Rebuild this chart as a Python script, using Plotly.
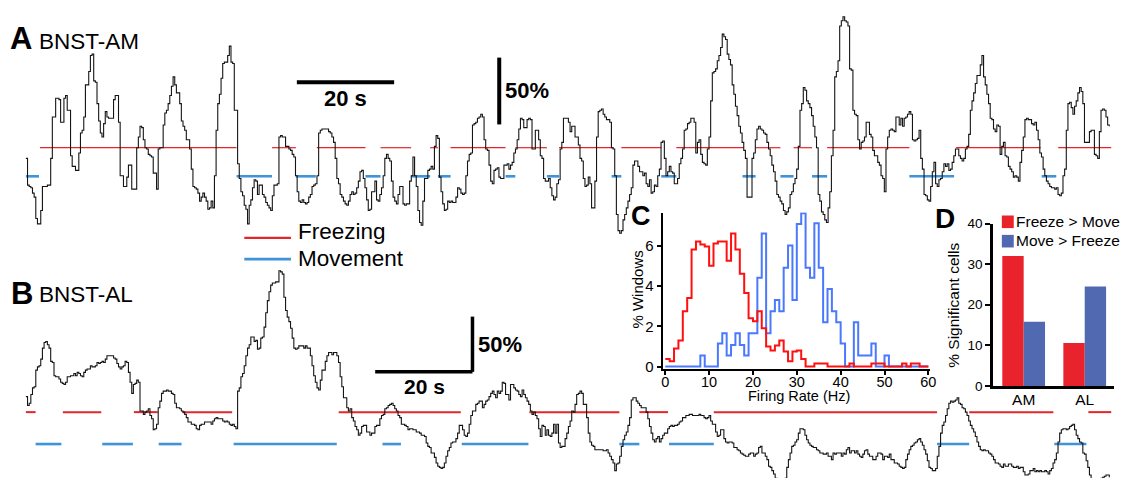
import numpy as np
import plotly.graph_objects as go

W, H = 1133, 494          # browser window
OX, OY = 8, 8             # default page margin around the figure
FW, FH = W - 2 * OX, H - 2 * OY
FONT = "Liberation Sans, Arial, Helvetica, sans-serif"

# ---------------- data ----------------
DT = 0.34  # seconds per sample

# BNST-AM normalized activity (%)
am_trace = [
    -8,-28,-29,-30,-34,-37,-53,-57,-57,-47, -29,-29,-29,-28,-28,-8,23,23,37,37,
    36,19,19,37,39,28,28,-6,-14,-14, -17,-17,-4,11,13,23,47,47,57,69,
    70,50,49,33,20,11,8,18,27,23, 22,22,22,36,39,39,19,-21,-21,-29,
    -29,-22,-13,-13,-31,-31,-31,0,8,16, 15,6,0,-1,-5,-6,-7,-19,-19,-31,
    -1,0,0,17,26,28,33,39,46,53, 47,41,41,33,20,16,13,6,6,-1,
    -16,-29,-30,-31,-34,-40,-37,-34,-37,-40, -46,-45,-40,-45,-21,13,33,40,52,63,
    64,64,69,76,64,63,28,28,-12,-23, -33,-36,-43,-46,-57,-43,-39,-30,-24,-25,
    -35,-28,-28,-35,-37,-41,-43,-45,-47,-36, -28,-28,-27,8,9,8,8,1,1,-1,
    -2,-5,-7,-21,-33,-40,-41,-39,-41,-42, -41,-37,-35,-29,-28,-27,-21,11,13,14,
    14,14,14,12,11,8,4,-8,-23,-27, -35,-37,-40,-42,-43,-40,-35,-33,-35,-34,
    -30,-25,-18,-17,-23,-30,-39,-47,-46,-33, -33,-25,-39,-40,
    -35,-30,-21,-8,-5,-8,-10,-25,-37,-40, -42,-35,-29,-29,-42,-43,-42,-42,-25,-21,
    -7,-21,-29,-47,-56,-58,-40,-23,-23,-17, -16,-14,-16,1,9,7,-22,-33,-42,-47,
    -46,-40,-41,-40,-41,-41,-37,-30,-31,-34, -35,-34,-21,-10,-5,-4,17,18,19,22,
    23,25,23,6,-1,-2,-13,-25,-27,-17, -16,-15,-22,-23,-23,-13,-13,-12,-16,-13,
    -11,-4,-1,6,14,22,21,15,15,21, 22,21,-1,-1,13,13,6,-6,-8,-23,
    -25,-25,-23,-30,-36,-39,-37,-27,-24,-1, 4,22,22,22,19,12,16,16,8,8,
    2,-8,-10,-23,-29,-28,-22,-27,-45,-45, -25,8,27,28,29,25,23,21,21,19,
    0,-1,-21,-50,-62,-64,-62,-54,-50,-45, -40,-35,-30,-13,-10,-10,-14,-18,-18,-21,
    -19,-27,-29,-24,-34,-33,-28,-29,-21,-16, 4,5,-8,-21,-18,-14,-18,-19,-27,-27,
    -23,-12,-8,-1,13,14,18,19,22,22, 19,-4,4,6,-5,-11,-12,-13,-1,8,
    35,56,57,59,65,69,75,85,83,81, 70,66,62,47,40,31,24,16,11,4, -2,-8,
    -37,-37,-37,-8,-4,6,14,16,14,13, 11,10,4,-1,-6,-13,-18,-25,-35,-37,
    -40,-42,-47,-50,-48,-45,-35,-33,-27,-23, -16,1,28,33,45,43,35,33,30,24,
    16,8,0,-35,-40,-48,-50,-54,-56,-45, -33,-6,13,53,57,65,91,95,98,95,
    94,91,59,58,28,25,24,6,-1,4, 5,8,19,19,10,8,-2,-6,-6,-11,
    -13,-21,-23,-33,-1,8,13,14,13,12, 23,23,17,22,16,22,23,25,27,25,
    6,5,6,7,13,-8,-16,-35,-36,-39, -40,-29,-18,-11,-27,-29,-24,-23,-18,-12,
    -14,-12,-17,-16,-11,-6,-1,-1,-6,-8, -10,-8,-1,1,10,28,35,41,48,54,
    54,62,69,53,47,40,33,22,21,14, 12,17,16,-5,1,4,-6,-7,-14,-16,
    -18,-22,-21,-22,-25,-11,-2,8,21,22, 21,21,18,17,19,13,6,-4,-7,-16,
    -21,-25,-27,-29,-30,-30,-31,-30,-35,-36, -34,-21,-16,13,33,34,30,25,31,35,
    41,45,42,33,4,4,4,12,13,13, -5,-6,-8,12,28,29,28,23,17,16,
]

# BNST-AL normalized activity (%)
al_trace = [
    14,6,8,16,22,23,38,41,42,48, 58,63,64,61,58,46,45,33,32,32,
    30,27,26,25,27,32,32,33,33,35, 33,36,35,33,32,36,38,39,39,42,
    41,41,42,45,44,45,46,45,48,51, 51,51,51,49,48,44,41,39,41,42,
    46,45,36,27,17,25,26,29,27,1, 1,-2,0,1,3,-3,-6,-16,-15,-11,
    4,10,17,19,19,20,19,19,17,16, 8,4,4,3,1,0,-2,-5,-9,-9,
    -11,-11,-12,-15,-16,-12,-11,-11,-9,-9, -9,-9,-11,-8,-6,-5,-6,-6,-6,-8,
    -9,-8,-9,-11,-12,-11,-13,-15,19,22, 32,35,42,51,58,61,68,68,64,65,
    57,58,67,68,77,90,101,109,115,117, 117,118,118,128,127,125,104,92,86,82,
    76,67,58,57,58,60,60,60,58,60, 58,58,51,42,33,27,22,20,29,38,
    38,46,51,54,54,52,54,54,51,45, 32,23,13,13,4,1,3,-5,-8,-13,
    -16,-21,-19,-13,-12,-12,-18,-18,-21,-19, -19,-13,-12,-12,
    -6,-3,-2,3,4,6,7,8,6,3, 1,-3,-5,-11,-11,-12,-13,-16,-15,-15,
    -16,-16,-18,-18,-19,-21,-21,-22,-28,-31, -32,-37,-37,-41,-46,-49,-50,-51,-50,-46,
    -40,-35,-32,-28,-27,-27,-24,-19,-12,-12, -16,-21,-22,-19,-11,-3,1,1,7,8,
    10,10,4,7,10,11,14,17,19,16, 13,19,17,19,27,26,16,16,11,25,
    25,22,20,19,16,14,20,16,13,10, 7,1,-2,0,-3,-6,-15,-22,-12,-13,
    -21,-16,-21,-22,-19,-11,-19,-11,-28,-32, -31,-31,-24,-19,-13,-8,1,0,7,16,
    17,19,17,7,7,-5,-19,-27,-30,-31, -34,-34,-34,-34,-34,-35,-35,-34,-37,-40,
    -43,-46,-53,-47,-46,-40,-31,-25,-21,-18, -12,-5,11,13,13,10,8,6,4,4,
    4,0,-6,-13,-19,-25,-27,-24,-22,-27, -24,-21,-19,-19,-15,-13,-12,-13,-12,-12,
    -11,-9,-8,-5,-5,-3,-3,-2,-2,-3, -3,-3,-3,-2,-3,-3,-5,-6,-5,-3,
    -8,-11,-11,-18,-22,-21,-16,-16,-24,-27, -28,-27,-27,-28,-32,-32,-34,-35,-37,-38, -39,-40,
    -40,-38,-37,-37,-40,-38,-37,-32,-31,-37, -37,-40,-43,-49,-50,-53,-56,-60,-62,-63,
    -65,-62,-65,-60,-50,-43,-37,-31,-30,-27, -25,-19,-15,-15,-16,-21,-25,-28,-30,-31,
    -32,-32,-34,-35,-37,-37,-38,-38,-37,-40, -40,-43,-37,-38,-37,-37,-37,-40,-37,-38,
    -34,-32,-37,-35,-35,-37,-35,-38,-40,-41, -38,-35,-34,-38,-40,-40,-43,-43,-40,-37,
    -37,-38,-43,-40,-40,-41,-38,-43,-43,-46, -46,-47,-49,-50,-51,-50,-43,-38,-34,-31,
    -30,-28,-27,-25,-24,-27,-30,-34,-38,-44, -50,-51,-53,-53,-51,-40,-31,-19,-12,-9,
    -3,3,8,10,9,10,11,13,8,7, 4,3,0,-3,-8,-12,-15,-18,-22,-27,
    -31,-34,-35,-34,-35,-35,-37,-38,-40,-43, -46,-46,-47,-49,-50,-47,-49,-49,-47,-47,
    -49,-50,-50,-49,-51,-50,-50,-54,-57,-57, -56,-53,-53,-51,-54,-53,-54,-53,-54,-54,
    -53,-54,-56,-53,-51,-46,-43,-37,-27,-19, -16,-15,-15,-16,-15,-13,-12,-11,-16,-21,
    -24,-27,-28,-37,-38,-44,-50,-57,-62,-66, -65,-63,-62,-61,-60,-59,-58,-57,-57,-59,
]

# behavioural epochs (start s, end s)
am_freeze_start = [2.9, 50.6, 59.8, 72.9, 83.1, 87.3, 100.6, 109.6, 122.4, 133.7, 150.0, 157.8, 164.7, 191.2, 212.2]
am_freeze_end   = [43.3, 55.5, 69.8, 79.2, 84.7, 98.6, 107.1, 120.8, 130.6, 147.6, 155.1, 161.6, 181.6, 208.6, 223.1]
am_move_start = [0.0, 43.3, 55.5, 69.8, 79.2, 84.7, 98.6, 107.1, 120.4, 130.6, 147.3, 155.1, 161.6, 181.6, 208.8]
am_move_end   = [2.7, 50.6, 59.6, 72.9, 83.1, 87.3, 100.6, 109.6, 122.4, 133.7, 150.0, 157.8, 164.7, 190.8, 211.8]

al_freeze_start = [0.0, 7.6, 22.2, 32.2, 64.3, 103.5, 126.1, 141.4, 193.9, 218.4]
al_freeze_end   = [2.0, 15.5, 27.1, 42.4, 89.4, 122.0, 132.0, 187.3, 211.2, 223.1]
al_move_start = [2.0, 15.7, 27.3, 42.7, 73.3, 89.6, 122.0, 132.2, 187.3, 211.4]
al_move_end   = [7.3, 22.0, 32.0, 63.9, 77.1, 103.3, 126.1, 141.4, 193.9, 218.0]

AM_FREEZE_LEVEL, AM_MOVE_LEVEL = 0.0, -21.4
AL_FREEZE_LEVEL, AL_MOVE_LEVEL = 0.0, -28.9

# C: firing-rate distributions (% windows per 1 Hz bin)
rate_edges = list(range(61))
freeze_hist = [0.38,0.27,0.9,1.3,2.75,3.4,5.8,6.2,6.05,5.95,
               5.0,6.1,6.2,6.2,5.25,6.6,5.8,4.6,3.65,2.4,
               2.25,2.75,1.9,1.0,0.8,1.05,1.3,0.75,0.27,0.75,
               0.8,0.38,0,0,0.16,0.16,0.16,0,0,0,
               0,0,0.16,0,0,0,0,0.16,0.16,0.16,
               0,0,0,0,0.16,0,0.16,0.16,0,0]
move_hist = [0,0,0,0,0,0,0,0,0.55,0,
             0,0,1.15,1.65,0.55,1.07,1.65,1.07,0.55,1.65,
             1.65,4.4,6.6,1.65,2.75,3.3,2.75,4.9,6.0,3.3,
             7.07,7.6,4.9,4.4,7.1,4.9,2.2,3.85,2.75,2.2,
             1.15,0,0,2.2,0.55,0.55,0.55,1.15,0,0,
             0.55,0,0,0,0,0,0,0,0,0]
c_yticks = [0, 2, 4, 6]
c_xticks = [0, 10, 20, 30, 40, 50, 60]

# D: % significant cells
regions = ["AM", "AL"]
freeze_gt_move = [32.0, 10.6]
move_gt_freeze = [15.8, 24.5]
d_yticks = [0, 10, 20, 30, 40]

# ---------------- helpers ----------------
def P(x, y):
    """window pixel -> paper fraction of the figure"""
    return (x - OX) / FW, 1 - (y - OY) / FH

def segments(starts, ends, level):
    xs, ys = [], []
    for a, b in zip(starts, ends):
        xs += [a, b, None]
        ys += [level, level, None]
    return xs, ys

t_am = np.arange(len(am_trace)) * DT
t_al = np.arange(len(al_trace)) * DT

RED_T = "#e3262a"
BLUE_T = "#3f93d8"

fig = go.Figure()

# A
x, y = segments(am_freeze_start, am_freeze_end, AM_FREEZE_LEVEL)
fig.add_trace(go.Scatter(x=x, y=y, mode="lines", line=dict(color=RED_T, width=1.2), xaxis="x", yaxis="y"))
x, y = segments(am_move_start, am_move_end, AM_MOVE_LEVEL)
fig.add_trace(go.Scatter(x=x, y=y, mode="lines", line=dict(color=BLUE_T, width=2.6), xaxis="x", yaxis="y"))
fig.add_trace(go.Scatter(x=t_am, y=am_trace, mode="lines", line=dict(color="#151515", width=1.1, shape="hv"),
                         xaxis="x", yaxis="y"))
# B
x, y = segments(al_freeze_start, al_freeze_end, AL_FREEZE_LEVEL)
fig.add_trace(go.Scatter(x=x, y=y, mode="lines", line=dict(color=RED_T, width=2), xaxis="x", yaxis="y2"))
x, y = segments(al_move_start, al_move_end, AL_MOVE_LEVEL)
fig.add_trace(go.Scatter(x=x, y=y, mode="lines", line=dict(color=BLUE_T, width=2.6), xaxis="x", yaxis="y2"))
fig.add_trace(go.Scatter(x=t_al, y=al_trace, mode="lines", line=dict(color="#151515", width=1.1, shape="hv"),
                         xaxis="x", yaxis="y2"))

# C
fig.add_trace(go.Scatter(x=rate_edges, y=move_hist + [move_hist[-1]], mode="lines",
                         line=dict(color="#4a78ff", width=2, shape="hv"), xaxis="x3", yaxis="y3"))
fig.add_trace(go.Scatter(x=rate_edges, y=freeze_hist + [freeze_hist[-1]], mode="lines",
                         line=dict(color="#ff1010", width=2, shape="hv"), xaxis="x3", yaxis="y3"))

# D
fig.add_trace(go.Bar(x=regions, y=freeze_gt_move, marker=dict(color="#e9232b", line=dict(width=0)),
                     xaxis="x4", yaxis="y4", name="Freeze > Move"))
fig.add_trace(go.Bar(x=regions, y=move_gt_freeze, marker=dict(color="#5069b1", line=dict(width=0)),
                     xaxis="x4", yaxis="y4", name="Move > Freeze"))

# ---------------- axes ----------------
PX_PER_S = 4.9
T0_PX = 25            # window x of t = 0
xr = [(OX - T0_PX) / PX_PER_S, (W - OX - T0_PX) / PX_PER_S]
A_PX, A_ZERO = 1.38, 145   # px per %, window y of 0 %
B_PX, B_ZERO = 1.14, 418
yA = [(A_ZERO - (H - OY)) / A_PX, (A_ZERO - OY) / A_PX]
yB = [(B_ZERO - (H - OY)) / B_PX, (B_ZERO - OY) / B_PX]

hidden = dict(visible=False, showgrid=False, zeroline=False, fixedrange=True)

C_HZ_PX = 265 / 60       # px per Hz
C_Y_PX = 20.83           # px per % windows
c_left, c_right = 669 - 0.6 * C_HZ_PX, 934 + 0.3 * C_HZ_PX
c_bottom, c_top = 371 + 0.1 * C_Y_PX, 212
cx = P(c_left, 0)[0], P(c_right, 0)[0]
cy = P(0, c_bottom)[1], P(0, c_top)[1]

d_left, d_right, d_bottom, d_top = 999, 1121, 391, 223.3
dx = P(d_left, 0)[0], P(d_right, 0)[0]
dy = P(0, d_bottom)[1], P(0, d_top)[1]

axis_common = dict(showgrid=False, zeroline=False, showline=True, linecolor="black",
                   ticks="outside", tickcolor="black", fixedrange=True)

fig.update_layout(
    width=FW, height=FH, margin=dict(l=0, r=0, t=0, b=0, pad=0), autosize=False,
    paper_bgcolor="white", plot_bgcolor="rgba(0,0,0,0)",
    showlegend=False, barmode="group", bargap=0.3, bargroupgap=0,
    xaxis=dict(domain=[0, 1], range=xr, **hidden),
    yaxis=dict(domain=[0, 1], range=yA, **hidden),
    yaxis2=dict(domain=[0, 1], range=yB, overlaying="y", **hidden),
    xaxis3=dict(domain=list(cx), range=[-0.6, 60.3], anchor="y3",
                tickvals=c_xticks, linewidth=2, ticklen=4, tickwidth=1.5, ticklabelstandoff=-5,
                tickfont=dict(family=FONT, size=14.5, color="black"), **axis_common),
    yaxis3=dict(domain=list(cy), range=[-0.1, (371 - 212) / C_Y_PX], anchor="x3",
                tickvals=c_yticks, linewidth=2, ticklen=4, tickwidth=1.5,
                tickfont=dict(family=FONT, size=15, color="black"), **axis_common),
    xaxis4=dict(domain=list(dx), range=[-0.504, 1.48], anchor="y4", type="category",
                showgrid=False, zeroline=False, showline=True, linecolor="black", linewidth=2.5,
                ticks="", fixedrange=True, ticklabelstandoff=-2,
                tickfont=dict(family=FONT, size=15.5, color="black")),
    yaxis4=dict(domain=list(dy), range=[0, 40], anchor="x4",
                tickvals=d_yticks, linewidth=2.5, ticklen=5, tickwidth=2,
                tickfont=dict(family=FONT, size=13.5, color="black"), **axis_common),
)

# scale bars (data units)
shapes = [
    dict(type="line", xref="x", yref="y", x0=55.7, x1=75.7, y0=49, y1=49, line=dict(color="black", width=4)),
    dict(type="line", xref="x", yref="y", x0=97.3, x1=97.3, y0=17.4, y1=67.4, line=dict(color="black", width=4)),
    dict(type="line", xref="x", yref="y2", x0=71.8, x1=91.8, y0=36.5, y1=36.5, line=dict(color="black", width=3.5)),
    dict(type="line", xref="x", yref="y2", x0=91.8, x1=91.8, y0=36.5, y1=86.5, line=dict(color="black", width=3.5)),
]
# legend marks
def pline(x0, x1, yy, color, w):
    a = P(x0, yy); b = P(x1, yy)
    return dict(type="line", xref="paper", yref="paper", x0=a[0], x1=b[0], y0=a[1], y1=b[1],
                line=dict(color=color, width=w))
def prect(x0, y0, x1, y1, color):
    a = P(x0, y0); b = P(x1, y1)
    return dict(type="rect", xref="paper", yref="paper", x0=a[0], x1=b[0], y0=b[1], y1=a[1],
                fillcolor=color, line=dict(width=0))
shapes += [pline(245, 292, 238, RED_T, 2.2), pline(245, 292, 260, BLUE_T, 2.6),
           prect(1008, 215, 1020, 228, "#e9232b"), prect(1008, 235, 1020, 248, "#5069b1")]
fig.update_layout(shapes=shapes)

def ann(text, x, y, size, bold=False, xanchor="left", angle=0):
    px_, py_ = P(x, y)
    return dict(text=("<b>%s</b>" % text) if bold else text, x=px_, y=py_, xref="paper", yref="paper",
                xanchor=xanchor, yanchor="middle", showarrow=False, textangle=angle, borderpad=0,
                font=dict(family=FONT, size=size, color="black"))

annotations = [
    ann("A", 8, 32, 31, True), ann("BNST-AM", 37, 35, 22.5),
    ann("B", 9, 296, 31, True), ann("BNST-AL", 37, 297, 22.5),
    ann("20 s", 347, 94, 22, True, "center"), ann("50%", 507, 86, 22, True),
    ann("Freezing", 298, 232, 22.5), ann("Movement", 298, 259, 22.5),
    ann("20 s", 427, 392, 21, True, "center"), ann("50%", 479, 348, 22, True),
    ann("C", 633, 216, 27, True), ann("D", 940, 218, 28, True),
    ann("% Windows", 641, 291, 15, False, "center", -90),
    ann("Firing Rate (Hz)", 804, 401, 14.5, False, "center"),
    ann("% Significant cells", 959, 308, 15.5, False, "center", -90),
    ann("Freeze > Move", 1021, 221, 15.5), ann("Move > Freeze", 1021, 241, 15.5),
]
fig.update_layout(annotations=annotations)

fig.write_html("out.html", config={"responsive": False, "displayModeBar": False})
